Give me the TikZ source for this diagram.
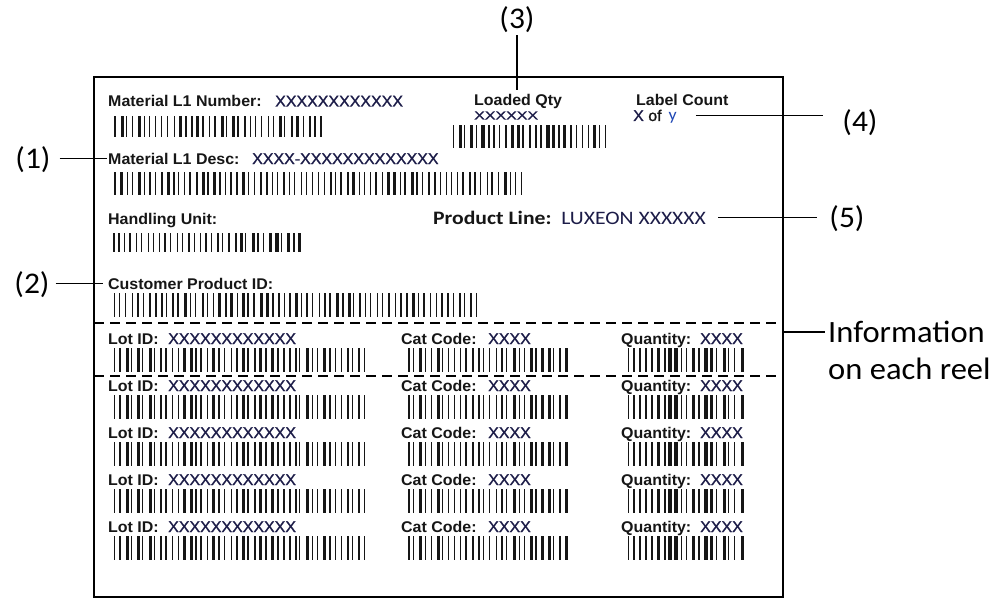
\documentclass[tikz,border=0pt]{standalone}
\usepackage{fontspec}
\setmainfont{Liberation Sans}
\newfontfamily\lblfont[FakeStretch=1.03]{Liberation Sans}
\newfontfamily\valfont[FakeStretch=1.03,FakeBold=1.2]{Liberation Sans}
\newfontfamily\calfont[FakeStretch=1.05]{Carlito}
\newfontfamily\calwide[FakeStretch=1.14]{Carlito}
\definecolor{navy}{RGB}{28,28,72}
\definecolor{ybl}{RGB}{30,70,180}
\definecolor{ink}{RGB}{22,22,22}
% barcode: x0, x1, ytop, ybottom, seed
\newcommand\bcode[5]{%
  \pgfmathsetseed{#5}%
  \pgfmathtruncatemacro\bcn{(#2-#1)/5.8}%
  \pgfmathsetmacro\bcp{(#2-#1-2.5)/\bcn}%
  \foreach \bci in {0,...,\bcn}{%
    \pgfmathsetmacro\bcw{{1.0,1.2,1.2,1.6,2.0,2.4,3.2}[int(random(0,6))]}%
    \pgfmathsetmacro\bcx{#1+\bci*\bcp+int(random(0,2))*0.5}%
    \fill[ink] (\bcx,#3) rectangle ++(\bcw,{(#4)-(#3)});
  }%
}
\begin{document}
\begin{tikzpicture}[x=1pt,y=-1pt,
  lbl/.style={anchor=base west, inner sep=0pt, text=ink, font=\lblfont\bfseries\fontsize{15.5}{17}\selectfont},
  valtxt/.style={anchor=base west, inner sep=0pt, text=navy, font=\valfont\fontsize{15.5}{17}\selectfont},
  calloutlbl/.style={inner sep=2pt, text=black, font=\calfont\fontsize{30}{34}\selectfont},
  infotxt/.style={anchor=west, inner sep=0pt, text=black, font=\calfont\fontsize{31}{34}\selectfont},
  lead/.style={draw=black, line width=1.8pt},
  sepline/.style={draw=black, line width=1.8pt, dash pattern=on 10pt off 6pt},
  frame/.style={draw=black, line width=2.8pt, inner sep=0pt, outer sep=0pt, anchor=north west}
]
\fill[white] (0,0) rectangle (995,599);
\useasboundingbox (0,0) rectangle (995,599);

% label frame
\node[frame, minimum width=689pt, minimum height=520pt] (box) at (94,77) {};

% separators
\coordinate (d1) at (0,323);
\coordinate (d2) at (0,376);
\draw[sepline] (box.west |- d1) -- (box.east |- d1);
\draw[sepline] (box.west |- d2) -- (box.east |- d2);

% upper fields
\node[lbl] (mn) at (108,106.5) {Material L1 Number:};
\node[valtxt] (mnv) at (275,106.5) {XXXXXXXXXXXX};
\bcode{114}{322}{116}{137}{11}

\node[lbl] (md) at (108,164) {Material L1 Desc:};
\node[valtxt] (mdv) at (252,164) {XXXX-XXXXXXXXXXXXX};
\bcode{114}{523}{172}{195}{23}

\node[lbl] (hu) at (108,224) {Handling Unit:};
\bcode{112}{300}{233}{252}{37}

\node[lbl] (cp) at (108,289) {Customer Product ID:};
\bcode{113}{478}{293}{317}{41}

\node[lbl] (lq) at (474,106) {Loaded Qty};
\node[valtxt] (lqv) at (474,119.5) {\scalebox{1}[0.75]{XXXXXX}};
\bcode{452}{607}{125}{148}{53}

\node[lbl] (lc) at (636,106) {Label Count};
\node[valtxt] (xy) at (633,121) {X {\color{ink}of}\hspace{7pt}{\calfont\fontsize{17}{18}\selectfont\color{ybl}\smash{y}}};

\node[anchor=base west, inner sep=0pt, text=ink, font=\calwide\fontsize{19}{22}\selectfont] (pl) at (433,224) {\textbf{Product Line:}\ \ {\color{navy}LUXEON XXXXXX}};

% reel rows
\foreach \k in {0,...,4}{
  \pgfmathsetmacro\yb{344+47*\k}
  \node[lbl] (lot\k) at (108,\yb) {Lot ID:};
  \node[valtxt] (lotv\k) at (168,\yb) {XXXXXXXXXXXX};
  \node[lbl] (cat\k) at (401,\yb) {Cat Code:};
  \node[valtxt] (catv\k) at (488,\yb) {XXXX};
  \node[lbl] (qty\k) at (621,\yb) {Quantity:};
  \node[valtxt] (qtyv\k) at (700,\yb) {XXXX};
  \bcode{113}{366}{\yb+4}{\yb+28}{61}
  \bcode{407}{567}{\yb+4}{\yb+28}{73}
  \bcode{627}{742}{\yb+4}{\yb+28}{89}
}

% callouts
\node[calloutlbl] (n1) at (33,160) {(1)};
\node[calloutlbl] (n2) at (32,285) {(2)};
\node[calloutlbl] (n3) at (517,20) {(3)};
\node[calloutlbl] (n4) at (860,123) {(4)};
\node[calloutlbl] (n5) at (847,219) {(5)};
\node[infotxt] (i1) at (828,332) {Information};
\node[infotxt] (i2) at (828,369) {on each reel};

% leader lines
\draw[lead] ([xshift=7pt]n1.east |- md.west) -- ([xshift=-1pt]md.west);
\draw[lead] ([xshift=4pt]n2.east |- cp.west) -- ([xshift=-5pt]cp.west);
\draw[lead, shorten >=5pt] (n3.south) -- (n3.south |- lq.north);
\draw[lead] ([xshift=19pt]xy.east) -- ([xshift=-17pt]n4.west |- xy.east);
\draw[lead] ([xshift=12pt]pl.east) -- ([xshift=-10pt]n5.west |- pl.east);
\draw[lead] (box.east |- i1.west) -- ([xshift=-3pt]i1.west);
\end{tikzpicture}
\end{document}
